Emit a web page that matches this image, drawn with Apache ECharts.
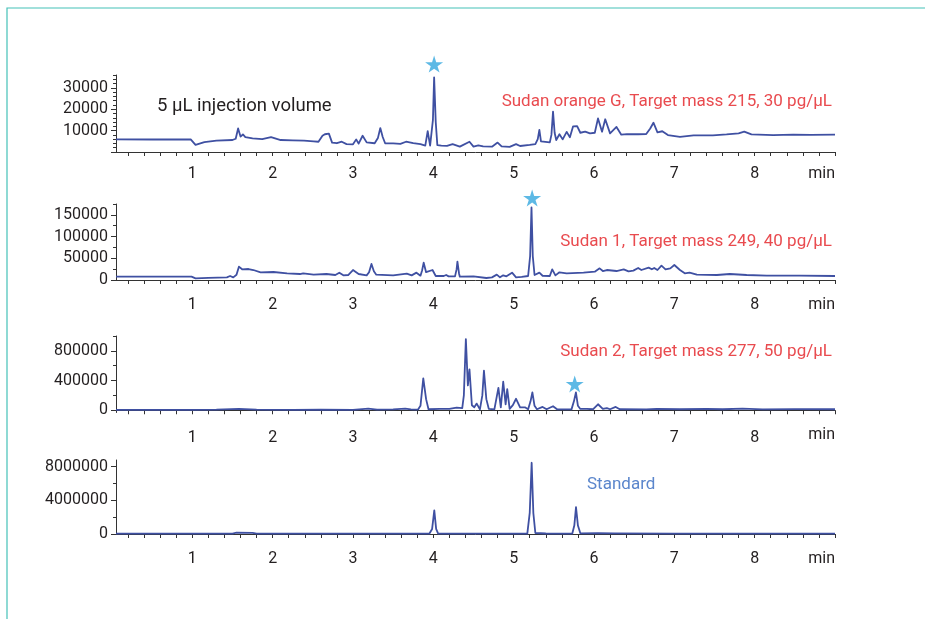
<!DOCTYPE html>
<html>
<head>
<meta charset="utf-8">
<title>Sudan dyes chromatograms</title>
<script src="https://cdn.jsdelivr.net/npm/echarts@6/dist/echarts.min.js"></script>
<style>
  html, body { margin: 0; padding: 0; background: #fff; }
  #chart { width: 925px; height: 619px; }
</style>
</head>
<body>
<div id="chart"></div>
<script>
// retention time (min) / intensity
var sudanOrangeG = [
  [0.05, 5900], [0.5, 5850], [0.98, 5900], [1.0, 5600], [1.04, 3300], [1.15, 4600], [1.3, 5300],
  [1.5, 5600], [1.54, 6200], [1.57, 11000], [1.6, 7200], [1.63, 8200], [1.66, 7000], [1.75, 6400],
  [1.87, 6000], [1.98, 7000], [2.1, 5600], [2.25, 5400], [2.39, 5300], [2.47, 5100], [2.49, 5900],
  [2.51, 5000], [2.57, 4800], [2.62, 7600], [2.65, 8300], [2.67, 8000], [2.7, 8600], [2.74, 4400],
  [2.8, 4100], [2.86, 4800], [2.92, 3700], [3.0, 3600], [3.04, 5900], [3.07, 3900], [3.12, 7600],
  [3.17, 4500], [3.27, 4100], [3.31, 6500], [3.34, 11200], [3.37, 7000], [3.4, 4100], [3.5, 4000],
  [3.59, 3800], [3.61, 3000], [3.66, 4800], [3.75, 4100], [3.84, 3700], [3.9, 3000], [3.93, 9800],
  [3.96, 3000], [3.98, 2800], [3.995, 15000], [4.01, 34900], [4.03, 14000], [4.05, 3200], [4.1, 3000],
  [4.17, 2900], [4.24, 3700], [4.33, 2500], [4.45, 4800], [4.5, 2500], [4.56, 3100], [4.62, 2600],
  [4.73, 2500], [4.8, 4400], [4.85, 2600], [4.95, 2400], [5.03, 3700], [5.08, 2800], [5.2, 3300],
  [5.27, 3700], [5.3, 6000], [5.32, 10300], [5.34, 5000], [5.35, 4100], [5.45, 4500], [5.47, 8000],
  [5.49, 18900], [5.51, 9000], [5.53, 5600], [5.57, 8300], [5.61, 5900], [5.66, 9400], [5.7, 6900],
  [5.74, 12000], [5.76, 12600], [5.79, 12100], [5.83, 9000], [5.89, 9500], [5.95, 8700], [6.01, 9000],
  [6.05, 15700], [6.1, 9500], [6.14, 15300], [6.2, 8700], [6.28, 11700], [6.34, 8100], [6.41, 8400],
  [6.55, 8300], [6.65, 8400], [6.7, 11000], [6.74, 13700], [6.79, 9200], [6.85, 9700], [6.92, 7900],
  [7.07, 7100], [7.24, 7800], [7.48, 7800], [7.65, 8200], [7.8, 8700], [7.87, 9500], [7.96, 8200],
  [8.23, 7900], [8.48, 8100], [8.7, 8000], [9.0, 8100]
];

var sudan1 = [
  [0.05, 7600], [0.99, 7600], [1.04, 3800], [1.2, 5000], [1.43, 6100], [1.47, 9200], [1.51, 6100],
  [1.55, 12000], [1.58, 30700], [1.62, 24600], [1.7, 25300], [1.76, 23000], [1.85, 17700], [2.01, 18400],
  [2.18, 15400], [2.34, 13800], [2.38, 15400], [2.51, 12300], [2.67, 13800], [2.78, 11500], [2.83, 16900],
  [2.88, 10700], [2.94, 11500], [3.0, 23000], [3.07, 13800], [3.17, 10700], [3.2, 18000], [3.23, 36900],
  [3.26, 20000], [3.29, 12300], [3.5, 10700], [3.67, 14600], [3.73, 10700], [3.79, 16900], [3.84, 10000],
  [3.86, 22000], [3.88, 39900], [3.91, 18000], [3.93, 13800], [3.99, 23000], [4.03, 9200], [4.13, 9200],
  [4.16, 11500], [4.19, 8400], [4.27, 8400], [4.29, 25000], [4.3, 42300], [4.32, 15000], [4.33, 7600],
  [4.5, 8400], [4.66, 4600], [4.73, 6100], [4.79, 12300], [4.83, 6100], [4.87, 10700], [4.91, 8400],
  [4.98, 16900], [5.03, 6100], [5.1, 7000], [5.18, 9200], [5.205, 55000], [5.222, 167000], [5.238, 55000],
  [5.26, 11500], [5.32, 16900], [5.36, 9800], [5.45, 9200], [5.48, 24600], [5.52, 10700], [5.57, 17700],
  [5.66, 15400], [5.87, 16900], [6.01, 19200], [6.07, 26900], [6.11, 20700], [6.16, 23000], [6.28, 20700],
  [6.37, 24600], [6.43, 19900], [6.49, 21500], [6.55, 27600], [6.59, 23000], [6.68, 28400], [6.72, 24600],
  [6.75, 27600], [6.79, 23000], [6.84, 33000], [6.89, 24600], [6.95, 26900], [7.0, 34600], [7.07, 23000],
  [7.13, 15400], [7.19, 16900], [7.28, 12300], [7.53, 11500], [7.69, 13800], [7.9, 11500], [8.15, 10000],
  [8.56, 10000], [9.0, 9200]
];

var sudan2 = [
  [0.05, 6000], [0.6, 6000], [1.0, 5000], [1.3, 8000], [1.58, 18000], [1.8, 10000], [2.26, 6000],
  [2.6, 7000], [3.0, 6000], [3.19, 22600], [3.3, 9000], [3.5, 12000], [3.65, 22600], [3.72, 12000],
  [3.81, 9000], [3.84, 60000], [3.875, 429500], [3.91, 150000], [3.94, 14000], [4.08, 18000], [4.2, 20000],
  [4.29, 36000], [4.36, 30000], [4.38, 200000], [4.405, 958000], [4.43, 334000], [4.45, 551600],
  [4.48, 67800], [4.51, 40000], [4.54, 90000], [4.58, 12000], [4.61, 200000], [4.63, 533000], [4.66, 150000],
  [4.69, 20000], [4.76, 12000], [4.81, 302000], [4.84, 40000], [4.87, 384000], [4.9, 80000], [4.92, 285000],
  [4.95, 20000], [4.99, 70000], [5.03, 155000], [5.08, 40000], [5.14, 40000], [5.18, 14000], [5.21, 120000],
  [5.233, 240000], [5.26, 60000], [5.29, 14000], [5.36, 45000], [5.41, 14000], [5.49, 54000], [5.54, 14000],
  [5.72, 12000], [5.75, 120000], [5.775, 240000], [5.8, 60000], [5.83, 18000], [5.91, 18000], [5.99, 14000],
  [6.05, 81000], [6.11, 18000], [6.16, 30000], [6.2, 14000], [6.27, 45000], [6.32, 14000], [6.65, 12000],
  [6.78, 18000], [7.07, 14000], [7.4, 20000], [7.6, 14000], [7.85, 22000], [8.1, 12000], [8.5, 15000],
  [9.0, 14000]
];

var standard = [
  [0.05, 40000], [1.5, 40000], [1.55, 150000], [1.75, 140000], [1.8, 40000], [3.95, 40000], [3.985, 600000],
  [4.012, 2810000], [4.035, 600000], [4.06, 40000], [5.17, 40000], [5.2, 2500000], [5.224, 8470000],
  [5.245, 2500000], [5.27, 120000], [5.4, 60000], [5.73, 50000], [5.755, 1000000], [5.776, 3200000],
  [5.8, 1000000], [5.83, 80000], [6.05, 90000], [6.25, 70000], [7.0, 50000], [8.6, 50000], [9.0, 40000]
];

// target peaks marked with a star
var starsOrangeG = [[4.01, 41100]];
var stars1 = [[5.23, 189000]];
var stars2 = [[5.76, 355000]];

var xLabels = [1, 2, 3, 4, 5, 6, 7, 8];
var xTicks = [];
for (var i = 1; i <= 45; i++) xTicks.push(Math.round(i * 2) / 10);

var panels = [
  { data: sudanOrangeG, stars: starsOrangeG, top: 75, height: 77, min: 0, max: 36000,
    major: [0, 10000, 20000, 30000], labels: [10000, 20000, 30000], minorStep: 2000, minorTop: 36000, margin: 14 },
  { data: sudan1, stars: stars1, top: 204, height: 76, min: 0, max: 175000,
    major: [0, 50000, 100000, 150000], labels: [0, 50000, 100000, 150000], minorStep: 25000, minorTop: 175000, margin: 17 },
  { data: sudan2, stars: stars2, top: 336, height: 76.5, min: -30000, max: 1000000,
    major: [0, 400000, 800000], labels: [0, 400000, 800000], minorStep: 200000, minorTop: 1000000, margin: 17 },
  { data: standard, stars: [], top: 460, height: 74, min: 0, max: 8800000,
    major: [0, 4000000, 8000000], labels: [0, 4000000, 8000000], minorStep: 2000000, minorTop: 8000000, margin: 17 }
];

var FONT = 'Roboto, "Noto Sans", sans-serif';
var AXIS = '#333';
var TRACE = '#3f50a2';
var STAR = '#35a8de';
var RED = '#e94b4f';
var STAR_PATH = 'path://M50,0 L61,35 L98,35 L68,57 L79,91 L50,70 L21,91 L32,57 L2,35 L39,35 Z';

var grids = [], xAxes = [], yAxes = [], series = [];

panels.forEach(function (p, k) {
  grids.push({ left: 116, right: 90, top: p.top, height: p.height, containLabel: false });

  xAxes.push({
    type: 'value', gridIndex: k, min: 0.05, max: 9.0,
    axisLine: { show: true, lineStyle: { color: AXIS, width: 1 } },
    axisTick: { show: true, customValues: xTicks, length: 4, lineStyle: { color: AXIS } },
    axisLabel: { customValues: xLabels, margin: p.margin, fontSize: 16, color: '#231f20', fontFamily: FONT },
    splitLine: { show: false },
    name: 'min', nameLocation: 'end', nameGap: 0,
    nameTextStyle: { align: 'right', verticalAlign: 'top', padding: [p.margin, 0, 0, 0],
      fontSize: 16, color: '#231f20', fontFamily: FONT }
  });

  var minors = [];
  for (var v = 0; v <= p.minorTop; v += p.minorStep) minors.push(v);

  // main axis: line, long ticks, labels
  yAxes.push({
    type: 'value', gridIndex: k, position: 'left', min: p.min, max: p.max,
    axisLine: { show: true, lineStyle: { color: AXIS, width: 1 } },
    axisTick: { show: true, customValues: p.major, length: 5, lineStyle: { color: AXIS } },
    axisLabel: { customValues: p.labels, margin: 8, fontSize: 16, color: '#231f20', fontFamily: FONT,
      formatter: function (val) { return String(val); } },
    splitLine: { show: false }
  });
  // overlay axis: short minor ticks only
  yAxes.push({
    type: 'value', gridIndex: k, position: 'left', offset: 0, min: p.min, max: p.max,
    axisLine: { show: false },
    axisTick: { show: true, customValues: minors, length: 3, lineStyle: { color: AXIS } },
    axisLabel: { show: false },
    splitLine: { show: false }
  });

  series.push({
    type: 'line', xAxisIndex: k, yAxisIndex: k * 2, data: p.data,
    showSymbol: false, symbol: 'none', smooth: false,
    lineStyle: { color: TRACE, width: 1.8, join: 'round' }, z: 3
  });
  if (p.stars.length) {
    series.push({
      type: 'scatter', xAxisIndex: k, yAxisIndex: k * 2, data: p.stars, clip: false,
      symbol: STAR_PATH, symbolSize: [18, 17], itemStyle: { color: STAR }, z: 5
    });
  }
});

var chart = echarts.init(document.getElementById('chart'));
chart.setOption({
  animation: false,
  backgroundColor: '#fff',
  grid: grids,
  xAxis: xAxes,
  yAxis: yAxes,
  series: series,
  graphic: [
    { type: 'polyline', shape: { points: [[7, 619], [7, 8], [925, 8]] },
      style: { stroke: '#45c1b8', lineWidth: 1.2, fill: null } },
    { type: 'text', x: 157, y: 106,
      style: { text: '5 µL injection volume', fill: '#231f20', font: '18.5px ' + FONT, align: 'left', verticalAlign: 'middle' } },
    { type: 'text', x: 832, y: 102,
      style: { text: 'Sudan orange G, Target mass 215, 30 pg/µL', fill: RED, font: '17px ' + FONT, align: 'right', verticalAlign: 'middle' } },
    { type: 'text', x: 832, y: 242,
      style: { text: 'Sudan 1, Target mass 249, 40 pg/µL', fill: RED, font: '17px ' + FONT, align: 'right', verticalAlign: 'middle' } },
    { type: 'text', x: 832, y: 352,
      style: { text: 'Sudan 2, Target mass 277, 50 pg/µL', fill: RED, font: '17px ' + FONT, align: 'right', verticalAlign: 'middle' } },
    { type: 'text', x: 587, y: 485,
      style: { text: 'Standard', fill: '#5b86cc', font: '17px ' + FONT, align: 'left', verticalAlign: 'middle' } }
  ]
});
</script>
</body>
</html>
